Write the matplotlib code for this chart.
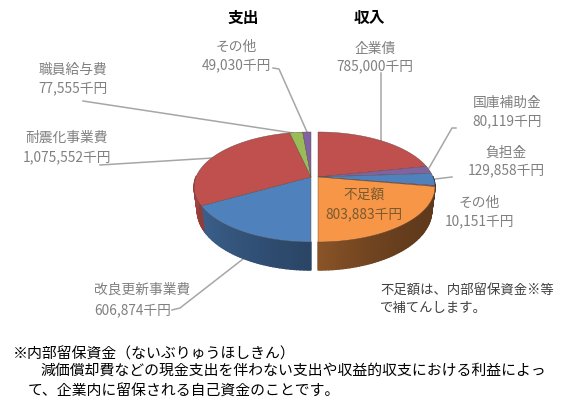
#!/usr/bin/env python3
"""Two split half pies: expenditure and revenue."""

import numpy as np
import matplotlib
matplotlib.use('Agg')
import matplotlib.pyplot as plt
from matplotlib.patches import Polygon

plt.rcParams['font.family'] = ['Noto Sans CJK JP', 'DejaVu Sans']

# clockwise from 12 o'clock (revenue), clockwise from 6 o'clock (expenditure)
income_names = ['企業債', '国庫補助金', '負担金', 'その他', '不足額']
income_values = [785000, 80119, 129858, 10151, 803883]
income_colors = ['#c0504d', '#8064a2', '#4f81bd', '#c0504d', '#f79646']

spend_names = ['改良更新事業費', '耐震化事業費', '職員給与費', 'その他']
spend_values = [606874, 1075552, 77555, 49030]
spend_colors = ['#4f81bd', '#c0504d', '#9bbb59', '#8064a2']

# pie geometry in pixels
RX, RY, K = 115, 53.2, 0.1818
DEPTH = 28
GRAY = '#808080'
LINE = '#a6a6a6'
LABEL_SIZE = 9.9


def project(theta, cx, cy, r=1.0, z=0.0):
    """theta clockwise from top, perspective squash of a flat circle."""
    x, y = r * np.sin(theta), r * np.cos(theta)
    w = 1 + K * y
    sx = cx + RX * x / w * (1 - 0.028 * z)
    sy = cy - RY * y / w + z * DEPTH * (0.82 / w)
    return sx, sy


def shade(color, f):
    rgb = np.array(matplotlib.colors.to_rgb(color))
    return tuple(rgb * f)


def draw_half(ax, values, colors, start, cx, cy, wall_shade):
    total = sum(values)
    edges = start + np.cumsum([0] + list(values)) / total * np.pi

    # side wall first, cut into thin strips for the gradient
    for v0, v1, col in zip(edges[:-1], edges[1:], colors):
        ts = np.linspace(v0, v1, max(int((v1 - v0) * 40), 2))
        for a, b in zip(ts[:-1], ts[1:]):
            if np.cos((a + b) / 2) > 0.02:
                continue
            x0, y0 = project(np.array([a, b]), cx, cy)
            x1, y1 = project(np.array([b, a]), cx, cy, z=1.0)
            pts = np.c_[np.r_[x0, x1], np.r_[y0, y1]]
            c = shade(col, wall_shade((a + b) / 2))
            ax.add_patch(Polygon(pts, fc=c, ec=c, lw=1.0, zorder=2))

    # top face
    for v0, v1, col in zip(edges[:-1], edges[1:], colors):
        ts = np.linspace(v0, v1, 60)
        x, y = project(ts, cx, cy)
        pts = np.c_[np.r_[cx, x], np.r_[cy, y]]
        ax.add_patch(Polygon(pts, fc=col, ec='#5a4a40', lw=0.3, zorder=3))


def wall_left(t):
    # t from pi (front) to 3*pi/2 (left edge)
    return 0.53 + 0.32 * (t - np.pi) / (np.pi / 2)


def wall_right(t):
    # t from pi/2 (right edge) to pi (front)
    f = (t - np.pi / 2) / (np.pi / 2)
    return 0.38 + 0.18 * f ** 3


fig = plt.figure(figsize=(5.82, 4.06), dpi=100)
ax = fig.add_axes([0, 0, 1, 1])
ax.set_xlim(0, 582)
ax.set_ylim(406, 0)
ax.axis('off')

draw_half(ax, spend_values, spend_colors, np.pi, 311, 178, wall_left)
draw_half(ax, income_values, income_colors, 0.0, 318, 178, wall_right)

# leader lines
leaders = [
    ([273, 279, 307], [69, 70, 133]),
    ([83, 293], [102, 134]),
    ([100, 213], [166, 159]),
    ([172, 180, 243], [311, 309, 260]),
    ([381, 381], [74, 142]),
    ([456, 452, 429], [129, 129, 169]),
    ([435, 452], [180, 178]),
]
for xs, ys in leaders:
    ax.plot(xs, ys, color=LINE, lw=1.1, zorder=1)

labels = [
    ('その他', '49,030千円', 236, 47, 65),
    ('職員給与費', '77,555千円', 73, 70, 88),
    ('耐震化事業費', '1,075,552千円', 67, 138, 157),
    ('企業債', '785,000千円', 375, 49, 66),
    ('国庫補助金', '80,119千円', 507, 103, 121),
    ('負担金', '129,858千円', 506, 153, 170),
    ('その他', '10,151千円', 479, 203, 221),
]
for name, val, x, y0, y1 in labels:
    ax.text(x, y0, name, color=GRAY, fontsize=LABEL_SIZE, ha='center', va='center', zorder=5)
    ax.text(x, y1, val, color=GRAY, fontsize=LABEL_SIZE, ha='center', va='center', zorder=5)

ax.text(94, 290, '改良更新事業費', color=GRAY, fontsize=LABEL_SIZE, ha='left', va='center')
ax.text(94, 310, '606,874千円', color=GRAY, fontsize=LABEL_SIZE, ha='left', va='center')

ax.text(364, 195, '不足額', color='#7a5a30', fontsize=LABEL_SIZE, ha='center', va='center', zorder=5)
ax.text(364, 214, '803,883千円', color='#7a5a30', fontsize=LABEL_SIZE, ha='center', va='center', zorder=5)

ax.text(243, 18, '支出', color='black', fontsize=11.3, fontweight='bold', ha='center', va='center')
ax.text(369, 18, '収入', color='black', fontsize=11.3, fontweight='bold', ha='center', va='center')

ax.text(380, 290, '不足額は、内部留保資金※等', color='#404040', fontsize=9.6, va='center')
ax.text(380, 308, 'で補てんします。', color='#404040', fontsize=9.6, va='center')

ax.text(13, 354, '※内部留保資金（ないぶりゅうほしきん）', color='black', fontsize=10.7, va='center')
ax.text(40, 371, '減価償却費などの現金支出を伴わない支出や収益的収支における利益によっ',
        color='black', fontsize=10.7, va='center')
ax.text(28, 392, 'て、企業内に留保される自己資金のことです。', color='black', fontsize=10.7, va='center')

fig.savefig('out.png', dpi=100, facecolor='white')
